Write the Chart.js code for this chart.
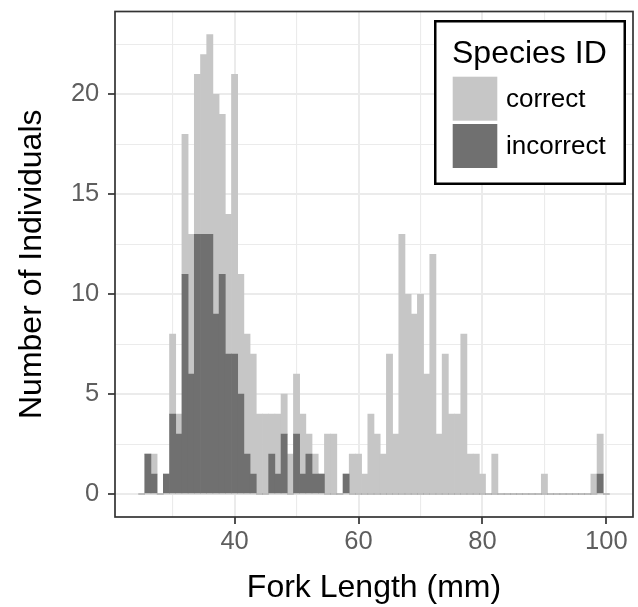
<!DOCTYPE html>
<html>
<head>
<meta charset="utf-8">
<script src="https://cdn.jsdelivr.net/npm/chart.js@4.4.1/dist/chart.umd.min.js"></script>
<style>
  html, body { margin: 0; padding: 0; background: #ffffff; }
  #wrap { width: 638px; height: 607px; position: relative; }
  canvas { display: block; }
</style>
</head>
<body>
<div id="wrap"><canvas id="chart" width="638" height="607"></canvas></div>
<script>
// ---- Data ----
const binCenters = [
  25, 26, 27, 28, 29, 30, 31, 32, 33, 34,
  35, 36, 37, 38, 39, 40, 41, 42, 43, 44,
  45, 46, 47, 48, 49, 50, 51, 52, 53, 54,
  55, 56, 57, 58, 59, 60, 61, 62, 63, 64,
  65, 66, 67, 68, 69, 70, 71, 72, 73, 74,
  75, 76, 77, 78, 79, 80, 81, 82, 83, 84,
  85, 86, 87, 88, 89, 90, 91, 92, 93, 94,
  95, 96, 97, 98, 99, 100
];
const correctCounts = [
  0, 0, 1, 0, 0, 4, 1, 7, 7, 8,
  9, 10, 11, 8, 7, 14, 6, 6, 6, 4,
  4, 2, 3, 2, 2, 3, 3, 1, 1, 0,
  3, 3, 0, 0, 2, 2, 1, 4, 3, 2,
  7, 3, 13, 10, 9, 10, 6, 12, 3, 7,
  4, 4, 8, 2, 2, 1, 0, 2, 0, 0,
  0, 0, 0, 0, 0, 1, 0, 0, 0, 0,
  0, 0, 0, 1, 2, 0
];
const incorrectCounts = [
  0, 2, 1, 0, 1, 4, 3, 11, 6, 13,
  13, 13, 9, 11, 7, 7, 5, 2, 1, 0,
  0, 2, 1, 3, 0, 3, 1, 2, 1, 1,
  0, 0, 0, 1, 0, 0, 0, 0, 0, 0,
  0, 0, 0, 0, 0, 0, 0, 0, 0, 0,
  0, 0, 0, 0, 0, 0, 0, 0, 0, 0,
  0, 0, 0, 0, 0, 0, 0, 0, 0, 0,
  0, 0, 0, 0, 1, 0
];
const seriesLabels = ['correct', 'incorrect'];
const xMajorTicks = [40, 60, 80, 100];
const xMinorTicks = [30, 50, 70, 90];
const yMajorTicks = [0, 5, 10, 15, 20];
const yMinorTicks = [2.5, 7.5, 12.5, 17.5, 22.5];
const xTitle = 'Fork Length (mm)';
const yTitle = 'Number of Individuals';
const legendTitle = 'Species ID';

// ---- Styling ----
const FONT = "'Liberation Sans', Arial, Helvetica, sans-serif";
const COLOR_CORRECT = '#c6c6c6';
const COLOR_INCORRECT = '#707070';
const TICK_TEXT = '#5e5e5e';

// ggplot-like 5% expansion of the data range
const binHalf = 0.5;
const xLo = binCenters[0] - binHalf, xHi = binCenters[binCenters.length - 1] + binHalf;
const xPad = (xHi - xLo) * 0.05;
const totals = binCenters.map((_, i) => correctCounts[i] + incorrectCounts[i]);
const yHi = Math.max(...totals);
const yPad = yHi * 0.05;

const allX = [...xMinorTicks, ...xMajorTicks].sort((a, b) => a - b);
const allY = [...yMajorTicks, ...yMinorTicks].sort((a, b) => a - b);

const panelBorder = {
  id: 'panelBorder',
  afterDatasetsDraw(chart) {
    const { ctx, chartArea: a } = chart;
    ctx.save();
    ctx.strokeStyle = '#333333';
    ctx.lineWidth = 1.7;
    ctx.strokeRect(a.left, a.top, a.right - a.left, a.bottom - a.top);
    ctx.restore();
  }
};

const boxLegend = {
  id: 'boxLegend',
  afterDraw(chart) {
    const { ctx, chartArea: a } = chart;
    const boxW = 192, boxH = 165;
    const bx = a.right - 7 - boxW;
    const by = a.top + 8.5;
    ctx.save();
    ctx.fillStyle = '#ffffff';
    ctx.fillRect(bx, by, boxW, boxH);
    ctx.strokeStyle = '#000000';
    ctx.lineWidth = 2.5;
    ctx.strokeRect(bx + 1.25, by + 1.25, boxW - 2.5, boxH - 2.5);
    // title
    ctx.fillStyle = '#000000';
    ctx.font = '32px ' + FONT;
    ctx.textAlign = 'left';
    ctx.textBaseline = 'alphabetic';
    ctx.fillText(legendTitle, bx + 18, by + 43.3);
    // keys
    const items = [
      { label: seriesLabels[0], color: COLOR_CORRECT },
      { label: seriesLabels[1], color: COLOR_INCORRECT }
    ];
    const keyX = bx + 18.7, keyW = 44.6, keyH = 44;
    const keyTops = [by + 56.7, by + 104];
    ctx.font = '26px ' + FONT;
    ctx.textBaseline = 'middle';
    items.forEach((it, i) => {
      ctx.fillStyle = it.color;
      ctx.fillRect(keyX, keyTops[i], keyW, keyH);
      ctx.fillStyle = '#000000';
      ctx.fillText(it.label, bx + 72, keyTops[i] + keyH / 2 + 1);
    });
    ctx.restore();
  }
};

const ctx = document.getElementById('chart');
new Chart(ctx, {
  data: {
    datasets: [
      {
        type: 'line',
        label: 'baseline',
        data: [{ x: xLo, y: 0 }, { x: xHi, y: 0 }],
        borderColor: '#d9d9d9',
        borderWidth: 1.6,
        pointRadius: 0,
        stack: 'base',
        order: 3
      },
      {
        type: 'bar',
        label: seriesLabels[1],
        data: binCenters.map((x, i) => ({ x: x, y: incorrectCounts[i] })),
        backgroundColor: COLOR_INCORRECT,
        borderWidth: 0,
        barPercentage: 1,
        categoryPercentage: 1,
        stack: 'hist',
        order: 1
      },
      {
        type: 'bar',
        label: seriesLabels[0],
        data: binCenters.map((x, i) => ({ x: x, y: correctCounts[i] })),
        backgroundColor: COLOR_CORRECT,
        borderWidth: 0,
        barPercentage: 1,
        categoryPercentage: 1,
        stack: 'hist',
        order: 1
      }
    ]
  },
  options: {
    responsive: false,
    maintainAspectRatio: false,
    animation: false,
    devicePixelRatio: 1,
    layout: { padding: { left: 0, right: 5, top: 11.5, bottom: 0 } },
    plugins: {
      legend: { display: false },
      tooltip: { enabled: false }
    },
    scales: {
      x: {
        type: 'linear',
        min: xLo - xPad,
        max: xHi + xPad,
        stacked: true,
        offset: false,
        afterBuildTicks: s => { s.ticks = allX.map(v => ({ value: v })); },
        afterFit: s => { s.height = 90; s.paddingLeft = 0; s.paddingRight = 0; },
        border: { display: false },
        grid: {
          offset: false,
          color: '#ebebeb',
          lineWidth: c => (c.tick && xMajorTicks.includes(c.tick.value)) ? 2 : 1.1,
          drawTicks: true,
          tickLength: 7,
          tickWidth: 1.7,
          tickColor: c => (c.tick && xMajorTicks.includes(c.tick.value)) ? '#333333' : 'rgba(0,0,0,0)'
        },
        ticks: {
          autoSkip: false,
          maxRotation: 0,
          padding: 3,
          color: TICK_TEXT,
          font: { family: FONT, size: 25.5 },
          callback: v => xMajorTicks.includes(v) ? String(v) : ''
        },
        title: {
          display: true,
          text: xTitle,
          color: '#000000',
          font: { family: FONT, size: 32 },
          padding: { top: 0, bottom: 0 }
        }
      },
      y: {
        type: 'linear',
        min: -yPad,
        max: yHi + yPad,
        stacked: true,
        afterBuildTicks: s => { s.ticks = allY.map(v => ({ value: v })); },
        afterFit: s => { s.width = 115; s.paddingTop = 0; s.paddingBottom = 0; },
        border: { display: false },
        grid: {
          offset: false,
          color: '#ebebeb',
          lineWidth: c => (c.tick && yMajorTicks.includes(c.tick.value)) ? 2 : 1.1,
          drawTicks: true,
          tickLength: 7,
          tickWidth: 1.7,
          tickColor: c => (c.tick && yMajorTicks.includes(c.tick.value)) ? '#333333' : 'rgba(0,0,0,0)'
        },
        ticks: {
          autoSkip: false,
          padding: 8.7,
          color: TICK_TEXT,
          font: { family: FONT, size: 25.5 },
          callback: v => yMajorTicks.includes(v) ? String(v) : ''
        },
        title: {
          display: true,
          text: yTitle,
          color: '#000000',
          font: { family: FONT, size: 32 },
          padding: { top: 13, bottom: 0 }
        }
      }
    }
  },
  plugins: [panelBorder, boxLegend]
});
</script>
</body>
</html>
